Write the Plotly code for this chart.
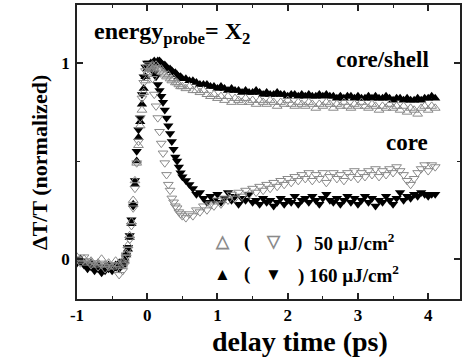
import numpy as np
import plotly.graph_objects as go

# ---- sampling grid of delay times (ps) ----
t_pre = np.round(np.arange(-1.0, -0.399, 0.05), 3)      # 13
t_mid = np.round(np.arange(-0.35, 0.476, 0.025), 3)     # 34
t_tail = np.round(np.arange(0.5, 4.101, 0.05), 3)       # 73
delay = np.concatenate([t_pre, t_mid, t_tail])

# ---- core/shell, 50 uJ/cm2 (open up-triangles) ----
cs50 = [
    0.01, -0.01, 0.00, -0.02, -0.01, -0.03, -0.02, 0.00, -0.03, -0.02, -0.04, -0.01, -0.03,
    -0.02, 0.00, 0.03, 0.07, 0.12, 0.19, 0.30, 0.40, 0.49, 0.58, 0.68, 0.76, 0.85, 0.91,
    0.95, 0.97, 0.98, 0.99, 0.97, 0.99, 0.98, 0.96, 0.97, 0.95, 0.94, 0.93, 0.94, 0.92,
    0.91, 0.92, 0.90, 0.90, 0.89, 0.88,
    0.88, 0.87, 0.88, 0.86, 0.86, 0.85, 0.86, 0.84, 0.83, 0.84,
    0.82, 0.83, 0.81, 0.83, 0.80, 0.82, 0.81, 0.80, 0.82, 0.80,
    0.81, 0.79, 0.81, 0.80, 0.79, 0.81, 0.80, 0.78, 0.80, 0.79,
    0.81, 0.79, 0.78, 0.80, 0.79, 0.78, 0.80, 0.79, 0.77, 0.79,
    0.78, 0.80, 0.79, 0.77, 0.79, 0.78, 0.80, 0.78, 0.77, 0.79,
    0.78, 0.80, 0.78, 0.77, 0.79, 0.78, 0.76, 0.78, 0.77, 0.79,
    0.77, 0.78, 0.76, 0.78, 0.75, 0.77, 0.76, 0.74, 0.77, 0.78,
    0.76, 0.78, 0.77,
]

# ---- core/shell, 160 uJ/cm2 (filled up-triangles) ----
cs160 = [
    -0.01, 0.00, -0.02, -0.03, -0.02, -0.04, -0.03, -0.05, -0.04, -0.03, -0.05, -0.03, -0.02,
    -0.03, -0.01, 0.02, 0.05, 0.11, 0.18, 0.28, 0.38, 0.50, 0.62, 0.70, 0.79, 0.87, 0.93,
    0.97, 0.99, 1.00, 1.00, 1.01, 1.00, 1.01, 1.01, 1.00, 0.99, 0.99, 0.98, 0.97, 0.97,
    0.96, 0.95, 0.95, 0.94, 0.93, 0.93,
    0.92, 0.92, 0.91, 0.91, 0.90, 0.89, 0.89, 0.89, 0.88, 0.88,
    0.87, 0.88, 0.87, 0.86, 0.87, 0.86, 0.86, 0.85, 0.86, 0.85,
    0.85, 0.86, 0.85, 0.84, 0.85, 0.84, 0.84, 0.85, 0.84, 0.84,
    0.83, 0.84, 0.84, 0.83, 0.84, 0.83, 0.84, 0.83, 0.83, 0.84,
    0.83, 0.84, 0.83, 0.83, 0.82, 0.83, 0.82, 0.83, 0.83, 0.82,
    0.83, 0.82, 0.82, 0.83, 0.82, 0.83, 0.82, 0.82, 0.83, 0.82,
    0.81, 0.82, 0.82, 0.81, 0.82, 0.81, 0.81, 0.82, 0.81, 0.82,
    0.82, 0.83, 0.82,
]

# ---- core, 50 uJ/cm2 (open down-triangles) ----
c50 = [
    0.00, -0.02, 0.01, -0.01, -0.03, -0.02, -0.04, -0.03, -0.05, -0.04, -0.03, -0.05, -0.08,
    -0.06, -0.03, 0.01, 0.05, 0.10, 0.17, 0.26, 0.36, 0.49, 0.60, 0.72, 0.82, 0.90, 0.96,
    0.98, 0.99, 0.96, 0.92, 0.84, 0.78, 0.72, 0.65, 0.59, 0.54, 0.49, 0.43, 0.38, 0.35,
    0.31, 0.29, 0.27, 0.26, 0.24, 0.23,
    0.22, 0.21, 0.23, 0.22, 0.25, 0.24, 0.27, 0.25, 0.28, 0.27,
    0.30, 0.28, 0.31, 0.30, 0.33, 0.31, 0.34, 0.32, 0.35, 0.33,
    0.36, 0.34, 0.37, 0.35, 0.38, 0.36, 0.39, 0.37, 0.40, 0.38,
    0.41, 0.39, 0.42, 0.40, 0.43, 0.41, 0.44, 0.40, 0.43, 0.41,
    0.44, 0.39, 0.42, 0.44, 0.41, 0.43, 0.40, 0.44, 0.42, 0.45,
    0.41, 0.44, 0.42, 0.45, 0.43, 0.46, 0.42, 0.45, 0.43, 0.46,
    0.44, 0.47, 0.45, 0.43, 0.40, 0.38, 0.41, 0.44, 0.46, 0.48,
    0.45, 0.48, 0.47,
]

# ---- core, 160 uJ/cm2 (filled down-triangles) ----
c160 = [
    -0.02, -0.01, -0.03, -0.05, -0.04, -0.06, -0.05, -0.07, -0.06, -0.05, -0.06, -0.04, -0.05,
    -0.03, -0.01, 0.02, 0.06, 0.12, 0.20, 0.27, 0.40, 0.55, 0.66, 0.72, 0.84, 0.93, 0.98,
    1.00, 1.00, 0.99, 0.97, 0.95, 0.93, 0.89, 0.86, 0.83, 0.80, 0.76, 0.72, 0.68, 0.64,
    0.60, 0.56, 0.52, 0.50, 0.47, 0.44,
    0.42, 0.40, 0.38, 0.36, 0.33, 0.34, 0.31, 0.29, 0.32, 0.30,
    0.33, 0.29, 0.31, 0.34, 0.30, 0.32, 0.28, 0.31, 0.30, 0.33,
    0.29, 0.30, 0.28, 0.31, 0.29, 0.30, 0.27, 0.29, 0.31, 0.28,
    0.30, 0.29, 0.32, 0.28, 0.30, 0.31, 0.29, 0.32, 0.30, 0.28,
    0.31, 0.33, 0.30, 0.29, 0.31, 0.28, 0.30, 0.32, 0.29, 0.31,
    0.28, 0.30, 0.32, 0.29, 0.31, 0.27, 0.30, 0.29, 0.32, 0.30,
    0.28, 0.31, 0.34, 0.30, 0.32, 0.31, 0.33, 0.32, 0.34, 0.33,
    0.32, 0.33, 0.33,
]

x_ticks = [-1, 0, 1, 2, 3, 4]
y_ticks = [0, 1]

FONT = "Liberation Serif"
GRAY = "#8a8a8a"

fig = go.Figure()
fig.add_trace(go.Scatter(x=delay, y=c160, mode="markers",
                         marker=dict(symbol="triangle-down", size=9, color="black",
                                     line=dict(width=0))))
fig.add_trace(go.Scatter(x=delay, y=cs160, mode="markers",
                         marker=dict(symbol="triangle-up", size=9, color="black",
                                     line=dict(width=0))))
fig.add_trace(go.Scatter(x=delay, y=c50, mode="markers",
                         marker=dict(symbol="triangle-down-open", size=8.5, color=GRAY,
                                     line=dict(width=1, color=GRAY))))
fig.add_trace(go.Scatter(x=delay, y=cs50, mode="markers",
                         marker=dict(symbol="triangle-up-open", size=8.5, color=GRAY,
                                     line=dict(width=1, color=GRAY))))

axis_common = dict(showline=True, linecolor="#222", linewidth=1.5, mirror="allticks",
                   ticks="inside", ticklen=6, tickwidth=1.5, tickcolor="#222",
                   showgrid=False, zeroline=False,
                   tickfont=dict(family=FONT, size=17, color="black", weight="bold"))

fig.update_xaxes(range=[-1, 4.453], tickvals=x_ticks, ticktext=[str(v) for v in x_ticks],
                 minor=dict(dtick=0.5, ticks="inside", ticklen=3, tickwidth=1.2, tickcolor="#222"),
                 ticklabelstandoff=0, **axis_common)
fig.update_yaxes(range=[-0.204, 1.296], tickvals=y_ticks, ticktext=[str(v) for v in y_ticks],
                 minor=dict(dtick=0.5, ticks="inside", ticklen=3, tickwidth=1.2, tickcolor="#222"),
                 ticklabelstandoff=2, **axis_common)

def ann(text, x, y, size, xanchor="center", color="black", yanchor="middle", **kw):
    fig.add_annotation(text=text, x=x, y=y, xref="paper", yref="paper", showarrow=False,
                       xanchor=xanchor, yanchor=yanchor,
                       font=dict(family=FONT, size=size, color=color, weight="bold"), **kw)

ann("energy<sub>probe</sub>= X<sub>2</sub>", 0.039, 0.905, 24, xanchor="left")
ann("core/shell", 0.925, 0.813, 23, xanchor="right")
ann("core", 0.922, 0.534, 23, xanchor="right")

ann("△", 0.379, 0.194, 17, color=GRAY)
ann("(", 0.444, 0.194, 19)
ann("▽", 0.514, 0.194, 17, color=GRAY)
ann(")", 0.579, 0.194, 19)
ann("50 µJ/cm<sup>2</sup>", 0.613, 0.194, 19, xanchor="left")
ann("▲", 0.379, 0.085, 17)
ann("(", 0.444, 0.085, 19)
ann("▼", 0.514, 0.085, 17)
ann(") 160 µJ/cm<sup>2</sup>", 0.571, 0.085, 19, xanchor="left")

ann("delay time (ps)", 0.581, -0.143, 28)
ann("ΔT/T (normalized)", -0.096, 0.463, 22, textangle=-90)

fig.update_layout(width=463, height=362, margin=dict(l=77, r=1, t=5, b=63),
                  paper_bgcolor="white", plot_bgcolor="white", showlegend=False)

fig.write_html("out.html", config={"displayModeBar": False},
               post_script="document.body.style.margin='0';document.body.style.overflow='hidden';")
